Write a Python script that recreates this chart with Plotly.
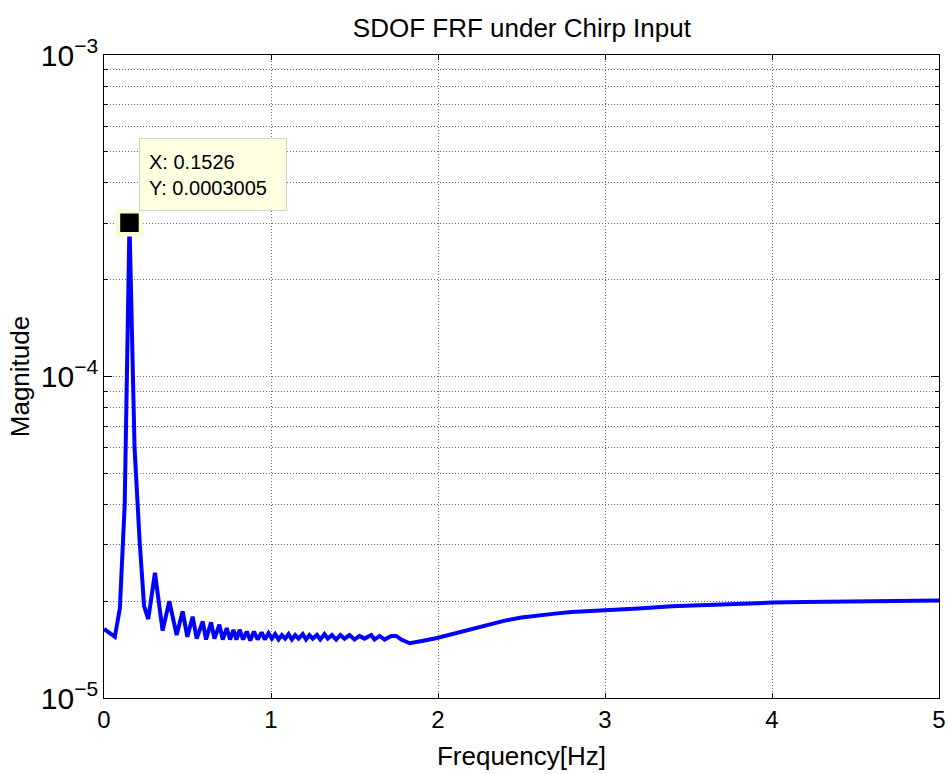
import plotly.graph_objects as go
import math

# Frequency (Hz) and FRF magnitude
freq_hz = [
    0.000, 0.030, 0.065, 0.095, 0.124, 0.1526, 0.183, 0.213, 0.240, 0.265,
    0.305, 0.351, 0.391, 0.435, 0.471, 0.499, 0.531, 0.555, 0.591, 0.611,
    0.641, 0.661, 0.691, 0.711, 0.735, 0.755, 0.775, 0.793, 0.812, 0.833,
    0.855, 0.876, 0.898, 0.920, 0.944, 0.963, 0.985, 1.005, 1.025, 1.045,
    1.065, 1.085, 1.105, 1.125, 1.145, 1.165, 1.190, 1.210, 1.230, 1.250,
    1.275, 1.295, 1.320, 1.340, 1.365, 1.390, 1.415, 1.440, 1.470, 1.500,
    1.530, 1.560, 1.600, 1.620, 1.650, 1.680, 1.720, 1.750, 1.780, 1.830,
    1.870, 1.920, 2.000, 2.100, 2.200, 2.300, 2.400, 2.500, 2.600, 2.700,
    2.800, 2.900, 3.000, 3.200, 3.400, 3.600, 3.800, 4.000, 4.200, 4.500,
    5.000,
]
magnitude = [
    1.64e-5, 1.60e-5, 1.55e-5, 1.90e-5, 4.00e-5, 3.005e-4, 6.00e-5, 3.10e-5, 1.93e-5, 1.76e-5,
    2.45e-5, 1.62e-5, 2.00e-5, 1.57e-5, 1.86e-5, 1.55e-5, 1.79e-5, 1.53e-5, 1.73e-5, 1.52e-5,
    1.72e-5, 1.53e-5, 1.69e-5, 1.52e-5, 1.65e-5, 1.52e-5, 1.63e-5, 1.52e-5, 1.63e-5, 1.52e-5,
    1.61e-5, 1.51e-5, 1.61e-5, 1.52e-5, 1.60e-5, 1.52e-5, 1.59e-5, 1.53e-5, 1.58e-5, 1.52e-5,
    1.57e-5, 1.53e-5, 1.58e-5, 1.52e-5, 1.57e-5, 1.53e-5, 1.58e-5, 1.52e-5, 1.57e-5, 1.53e-5,
    1.57e-5, 1.52e-5, 1.58e-5, 1.53e-5, 1.57e-5, 1.52e-5, 1.57e-5, 1.53e-5, 1.57e-5, 1.52e-5,
    1.56e-5, 1.53e-5, 1.57e-5, 1.52e-5, 1.56e-5, 1.52e-5, 1.56e-5, 1.56e-5, 1.52e-5, 1.48e-5,
    1.49e-5, 1.51e-5, 1.54e-5, 1.59e-5, 1.64e-5, 1.69e-5, 1.74e-5, 1.78e-5, 1.81e-5, 1.83e-5,
    1.85e-5, 1.86e-5, 1.87e-5, 1.90e-5, 1.93e-5, 1.95e-5, 1.97e-5, 1.98e-5, 1.99e-5, 2.00e-5,
    2.01e-5,
]

# Data tip
tip_x = [0.1526]
tip_y = [0.0003005]
tip_text = "X: 0.1526<br>Y: 0.0003005"

x_tickvals = [0, 1, 2, 3, 4, 5]

FONT = "Liberation Sans, Arial, sans-serif"
GRID = "#6f6f6f"
GRIDDASH = "1px,2px"

fig = go.Figure()
fig.add_trace(go.Scatter(
    x=freq_hz, y=magnitude, mode="lines",
    line=dict(color="#0000ff", width=4),
    showlegend=False, hoverinfo="skip",
))
fig.add_trace(go.Scatter(
    x=tip_x, y=tip_y, mode="markers",
    marker=dict(symbol="square", size=23, color="#000000",
                line=dict(color="#fafad2", width=4.5)),
    showlegend=False, hoverinfo="skip",
))

fig.add_annotation(
    x=tip_x[0] + 0.059, y=math.log10(tip_y[0]) + 0.263,
    xref="x", yref="y", xanchor="left", yanchor="top",
    text=tip_text, showarrow=False, align="left",
    font=dict(family=FONT, size=20, color="#000000"),
    bgcolor="#ffffe1", bordercolor="#d4d4c0", borderwidth=1,
    borderpad=9, width=128, height=53,
)

axis_common = dict(
    showline=True, linecolor="#000000", linewidth=1, mirror="ticks",
    ticks="inside", tickcolor="#000000",
    showgrid=True, gridcolor=GRID, griddash=GRIDDASH, gridwidth=1,
    zeroline=False, automargin=False,
    tickfont=dict(family=FONT, size=24, color="#000000"),
)

fig.update_xaxes(
    range=[0, 5], tickvals=x_tickvals, ticklen=5,
    title=dict(text="Frequency[Hz]", font=dict(family=FONT, size=26, color="#000000"), standoff=15),
    **axis_common,
)
fig.update_yaxes(
    type="log", range=[-5, -3], dtick=1, exponentformat="power", ticklen=8,
    minor=dict(dtick="D1", showgrid=True, gridcolor=GRID, griddash=GRIDDASH,
               gridwidth=1, ticks="inside", ticklen=4, tickcolor="#000000"),
    title=dict(text="Magnitude", font=dict(family=FONT, size=26, color="#000000"), standoff=3),
    **axis_common,
)

fig.update_layout(
    width=948, height=774,
    margin=dict(l=104, r=9, t=55, b=76),
    paper_bgcolor="#ffffff", plot_bgcolor="#ffffff",
    title=dict(text="SDOF FRF under Chirp Input", x=0.5505, xanchor="center",
               y=0.964, yanchor="middle",
               font=dict(family=FONT, size=26, color="#000000")),
    font=dict(family=FONT),
)

fig.write_html("out.html")
